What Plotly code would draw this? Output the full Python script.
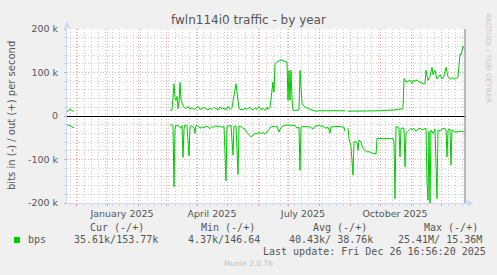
import plotly.graph_objects as go
import pandas as pd

# ---------------- data (kbit/s), day offsets from START ----------------
START = "2024-11-22"
END = "2025-12-26"

out_days = [0, 1, 3, 4, 6, 7, 8,
            103, 105, 107, 108, 109, 110, 111, 112, 113, 114, 115, 116, 117, 119, 121, 123, 125, 127,
            129, 131, 133, 135, 137, 139, 141, 143, 145, 147, 149, 151, 153, 155, 157, 159, 161, 163,
            165, 167, 169, 170, 171, 172, 174, 176, 178, 180, 182, 184, 186, 188, 190, 192, 194, 196,
            198, 200, 201, 203, 205, 206, 207, 208, 210, 213, 215, 217, 220, 221, 222, 223, 224, 225,
            226, 228, 230, 232, 233, 234, 235, 237, 239, 241, 243, 246, 249, 253, 263, 273, 278, 279,
            281, 293, 303, 313, 318, 328, 336, 337, 339, 341, 343, 345, 346, 348, 350, 352, 354, 356,
            358, 359, 361, 363, 365, 366, 368, 370, 372, 373, 375, 377, 379, 381, 383, 385, 387, 389,
            391, 392, 393, 394, 396, 398]
out_vals = [9, 12, 17, 14, 11, 10, None,
            13, 14, 74, 40, 36, 45, 17, 30, 77, 36, 30, 25, 20, 17, 22, 16, 19, 15,
            18, 22, 15, 17, 20, 16, 14, 18, 15, 20, 17, 14, 21, 16, 18, 14, 22, 15,
            20, 45, 74, 55, 30, 17, 15, 14, 18, 15, 20, 16, 14, 19, 15, 22, 14, 18,
            13, 20, 15, 20, 60, 78, 55, 120, 125, 128, 129, 126, 124, 36, 105, 36, 105, 40,
            13, 12, 13, 14, 105, 45, 29, 22, 19, 17, 15, 13, 11, 12, 12, 12, 12, None,
            11, 11, 11, 12, 13, 14, 17, 86, 78, 80, 82, 75, 82, 80, 83, 78, 77, 74,
            74, 105, 82, 90, 112, 95, 105, 85, 90, 95, 85, 92, 112, 90, 84, 88, 85, 86,
            90, 120, 143, 140, 160, 153.77]

in_days = [0, 2, 3, 5, 6, 7, 8,
           103, 105, 106, 107, 108, 109, 111, 113, 114, 115, 116, 117, 118, 120, 122, 123, 125, 127,
           128, 129, 131, 133, 135, 137, 139, 141, 143, 145, 147, 149, 151, 153, 155, 157, 159, 160,
           162, 164, 166, 167, 169, 171, 172, 174, 176, 178, 180, 182, 184, 186, 188, 190, 192, 194,
           196, 198, 200, 202, 204, 206, 208, 210, 212, 214, 216, 218, 221, 225, 228, 230, 232, 233,
           234, 236, 239, 243, 246, 248, 251, 253, 256, 259, 261, 263, 264, 267, 271, 275, 277, 278,
           279, 281, 282, 284, 286, 287, 288, 290, 291, 292, 294, 296, 298, 300, 302, 304, 306, 308,
           309, 310, 312, 315, 319, 323, 326, 327, 328, 329, 331, 332, 333, 334, 336, 337, 338, 339,
           341, 343, 344, 345, 347, 349, 351, 353, 355, 357, 359, 360, 361, 362, 363, 364, 366, 368,
           370, 371, 373, 375, 377, 379, 380, 381, 383, 384, 385, 387, 389, 391, 393, 395, 398]
in_vals = [-20, -21, -22, -25, -27, -27, None,
           -21, -20, -22, -163, -30, -21, -22, -25, -28, -22, -95, -30, -21, -22, -92, -25, -22, -28,
           -40, -22, -22, -28, -25, -27, -23, -25, -29, -24, -26, -22, -25, -23, -26, -24, -149, -24,
           -23, -22, -90, -24, -23, -134, -23, -24, -28, -30, -38, -42, -48, -44, -40, -41, -38, -40,
           -38, -42, -36, -30, -25, -24, -25, -24, -37, -26, -24, -21, -21, -21, -22, -28, -26, -125,
           -26, -24, -25, -25, -30, -24, -22, -22, -24, -28, -26, -39, -25, -24, -24, -25, -26, -35,
           None, -28, -52, -70, -136, -60, -58, -62, -79, -55, -60, -75, -80, -83, -82, -84, -86, -86,
           -88, -52, -51, -52, -52, -52, -52, -60, -190, -25, -25, -30, -94, -28, -27, -28, -117, -40,
           -35, -30, -28, -32, -28, -35, -30, -28, -32, -30, -28, -151, -193, -35, -200, -32, -40, -30,
           -190, -32, -35, -30, -28, -32, -94, -32, -30, -113, -32, -35, -38, -35, -36, -35, -35.61]

y_tickvals = [-200000, -100000, 0, 100000, 200000]
y_ticktext = ["-200 k", "-100 k", "0", "100 k", "200 k"]
x_labels = ["January 2025", "April 2025", "July 2025", "October 2025"]
x_label_dates = ["2025-01-16", "2025-04-16", "2025-07-16", "2025-10-16"]

legend_head = ["Cur (-/+)", "Min (-/+)", "Avg (-/+)", "Max (-/+)"]
legend_vals = ["35.61k/153.77k", "4.37k/146.64", "40.43k/ 38.76k", "25.41M/ 15.36M"]
series_name = "bps"
last_update = "Last update: Fri Dec 26 16:56:20 2025"

# ---------------- build ----------------
t0 = pd.Timestamp(START)
out_x = [t0 + pd.Timedelta(days=d) for d in out_days]
in_x = [t0 + pd.Timedelta(days=d) for d in in_days]
out_y = [None if v is None else v * 1000 for v in out_vals]
in_y = [None if v is None else v * 1000 for v in in_vals]

W, H = 497, 275
L, R, T, B = 67, 31, 29, 72
PW, PH = W - L - R, H - T - B


def px(x):
    return (x - L) / PW


def py(y):
    return (H - B - y) / PH


GREEN = "#00CC00"
FONT = "#555555"
AXIS = "#CFD6F8"
MGRID = "rgba(222,79,79,0.5)"
GRID = "rgba(143,143,143,0.45)"

fig = go.Figure()
fig.add_trace(go.Scatter(x=out_x, y=out_y, mode="lines", line=dict(color=GREEN, width=1),
                         connectgaps=False, showlegend=False, hoverinfo="skip"))
fig.add_trace(go.Scatter(x=in_x, y=in_y, mode="lines", line=dict(color=GREEN, width=1),
                         connectgaps=False, showlegend=False, hoverinfo="skip"))

month_starts = pd.date_range("2024-12-01", "2025-12-01", freq="MS")
mondays = [d for d in pd.date_range(START, END, freq="W-MON") if d.day != 1]
minor_y = [v for v in range(-200000, 200001, 20000) if v % 100000 != 0]

fig.update_layout(
    width=W, height=H, margin=dict(l=L, r=R, t=T, b=B),
    paper_bgcolor="#F0F0F0", plot_bgcolor="#FFFFFF",
    font=dict(family="DejaVu Sans", size=10, color=FONT),
    xaxis=dict(range=[START, END], tickmode="array", tickvals=list(month_starts),
               showticklabels=False, showgrid=True, gridcolor=MGRID, griddash="1px,2px", gridwidth=1,
               ticks="outside", ticklen=2, tickcolor=MGRID,
               showline=True, linecolor=AXIS, linewidth=1, zeroline=False,
               minor=dict(tickmode="array", tickvals=mondays, showgrid=True, gridcolor=GRID,
                          griddash="1px,2px", ticks="outside", ticklen=2, tickcolor=AXIS)),
    xaxis2=dict(range=[START, END], overlaying="x", side="bottom", anchor="y",
                tickmode="array", tickvals=x_label_dates, ticktext=x_labels,
                showgrid=False, ticks="outside", ticklen=2, tickcolor="rgba(0,0,0,0)",
                tickfont=dict(size=9.5, color=FONT), showline=False, zeroline=False),
    yaxis=dict(range=[-200000, 200000], tickmode="array", tickvals=y_tickvals, ticktext=y_ticktext,
               tickfont=dict(size=9.5, color=FONT), showgrid=True, gridcolor=MGRID,
               griddash="1px,2px", ticks="outside", ticklen=2, tickcolor=MGRID,
               ticklabelstandoff=4,
               showline=True, linecolor=AXIS, linewidth=1,
               zeroline=True, zerolinecolor="#000000", zerolinewidth=1.2,
               minor=dict(tickmode="array", tickvals=minor_y, showgrid=True, gridcolor=GRID,
                          griddash="1px,2px", ticks="outside", ticklen=2, tickcolor=AXIS)),
)

# invisible trace on xaxis2 so that it renders
fig.add_trace(go.Scatter(x=[START], y=[0], xaxis="x2", mode="markers",
                         marker=dict(opacity=0), showlegend=False, hoverinfo="skip"))

shapes = []
# right vertical "now" line
shapes.append(dict(type="line", xref="x", yref="paper", x0="2025-12-25", x1="2025-12-25",
                   y0=0, y1=1, line=dict(color="#A0A0A0", width=1.5)))
# axis extensions + arrows
shapes.append(dict(type="line", xref="paper", yref="paper", x0=0, x1=0, y0=1, y1=py(24),
                   line=dict(color=AXIS, width=1)))
shapes.append(dict(type="path", xref="paper", yref="paper",
                   path=f"M {px(64)} {py(28)} L {px(70)} {py(28)} L {px(67)} {py(21)} Z",
                   fillcolor=AXIS, line=dict(width=0)))
shapes.append(dict(type="line", xref="paper", yref="paper", x0=1, x1=px(470), y0=0, y1=0,
                   line=dict(color=AXIS, width=1)))
shapes.append(dict(type="path", xref="paper", yref="paper",
                   path=f"M {px(467)} {py(200)} L {px(467)} {py(206.5)} L {px(474)} {py(203.3)} Z",
                   fillcolor=AXIS, line=dict(width=0)))
# legend colour box
shapes.append(dict(type="rect", xref="paper", yref="paper", x0=px(14), x1=px(20), y0=py(243),
                   y1=py(237), fillcolor=GREEN, line=dict(width=0)))
fig.update_layout(shapes=shapes)

ann = []
ann.append(dict(text="fwln114i0 traffic - by year", x=px(248), y=py(19.5), xref="paper",
                yref="paper", xanchor="center", yanchor="middle", showarrow=False,
                font=dict(family="DejaVu Sans", size=12, color=FONT)))
ann.append(dict(text="bits in (-) / out (+) per second", x=px(11), y=py(116), xref="paper",
                yref="paper", xanchor="center", yanchor="middle", textangle=-90, showarrow=False,
                font=dict(family="DejaVu Sans", size=10, color=FONT)))
ann.append(dict(text="RRDTOOL / TOBI OETIKER", x=px(488), y=py(58), xref="paper",
                yref="paper", xanchor="center", yanchor="middle", textangle=90, showarrow=False,
                font=dict(family="DejaVu Sans", size=7, color="#C8C8C8")))
MONO = "DejaVu Sans Mono"
head_x = [89, 200, 312, 423]
val_x = [73, 187, 288, 397]
for hx, txt in zip(head_x, legend_head):
    ann.append(dict(text=txt, x=px(hx - 1), y=py(227.5), xref="paper", yref="paper",
                    xanchor="left", yanchor="middle", showarrow=False,
                    font=dict(family=MONO, size=10, color=FONT)))
ann.append(dict(text=series_name, x=px(26), y=py(239.5), xref="paper", yref="paper",
                xanchor="left", yanchor="middle", showarrow=False,
                font=dict(family=MONO, size=10, color=FONT)))
for vx, txt in zip(val_x, legend_vals):
    ann.append(dict(text=txt, x=px(vx - 1), y=py(239.5), xref="paper", yref="paper",
                    xanchor="left", yanchor="middle", showarrow=False,
                    font=dict(family=MONO, size=10, color=FONT)))
ann.append(dict(text=last_update, x=px(261), y=py(251.5), xref="paper", yref="paper",
                xanchor="left", yanchor="middle", showarrow=False,
                font=dict(family=MONO, size=10, color=FONT)))
ann.append(dict(text="Munin 2.0.76", x=px(248), y=py(263.5), xref="paper", yref="paper",
                xanchor="center", yanchor="middle", showarrow=False,
                font=dict(family="DejaVu Sans", size=7.5, color="#C0C0C0")))
fig.update_layout(annotations=ann)

fig.write_html("out.html")
